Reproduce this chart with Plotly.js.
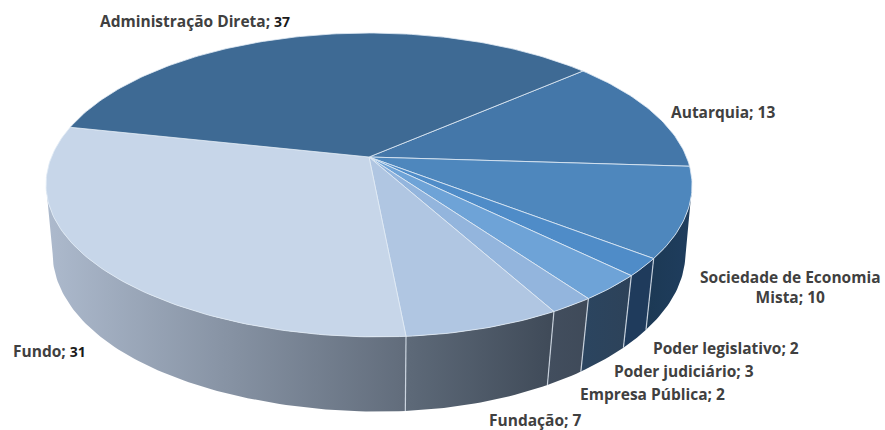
<!DOCTYPE html>
<html><head><meta charset="utf-8">
<script src="https://cdn.plot.ly/plotly-3.0.1.min.js"></script>
<style>html,body{margin:0;padding:0;background:#fff}#c{width:885px;height:430px}</style>
</head><body><div id="c"></div>
<script>
// Data
const categories = ["Autarquia","Sociedade de Economia Mista","Poder legislativo","Poder judiciário","Empresa Pública","Fundação","Fundo","Administração Direta"];
const values = [13,10,2,3,2,7,31,37];
// Styles
const topColors = ["#4477a9","#4e87bd","#4f8cc8","#6ea3d7","#93b5dd","#b0c6e2","#c7d6e9","#3e6a94"];
const wallStart = ["#000","#1c3954","#1f3b5c","#2b4560","#424e5e","#5e6a79","#adbacd","#000"];
const wallEnd   = ["#000","#1f3d5e","#1f3b5c","#2d4259","#3f4a59","#3f4a58","#616c7b","#000"];
const labelX = [723,790,726,684,652,535,49,195];
const labelY = [112,287,348,371,394,420,351,21];
const labelNumDark = [false,false,false,false,false,false,true,true];
// Projection of the tilted disc
const startAngle = 49, visibleFrom = 100.6, visibleTo = 259.4;
const topPlane = {x0:369, y0:157, a:317.5, b:146.8, k:0.184, skew:9, pow:3};
const basePlane = {x0:369, y0:224, a:311, b:153, k:0.184, skew:9, pow:8};
function project(p, deg){
  const t = deg*Math.PI/180, u = Math.sin(t), v = Math.cos(t), w = 1 + p.k*v;
  const warp = v<0 ? p.skew*Math.pow(-v,p.pow) : 0;
  return [p.x0 + p.a*u/w + warp, p.y0 - p.b*v/w];
}
function arc(p, from, to){
  const n = Math.max(2, Math.ceil(Math.abs(to-from)));
  const pts = [];
  for(let i=0;i<=n;i++) pts.push(project(p, from + (to-from)*i/n));
  return pts;
}
const total = values.reduce((a,b)=>a+b,0);
let cum = startAngle; const slices = values.map(v=>{const s={from:cum,to:cum+v/total*360};cum=s.to;return s;});
const traces = [];
// Walls
slices.forEach((s,i)=>{
  const from = Math.max(s.from,visibleFrom), to = Math.min(s.to,visibleTo);
  if(to<=from) return;
  const pts = arc(topPlane,from,to).concat(arc(basePlane,to,from));
  const xs = pts.map(q=>q[0]), ys = pts.map(q=>q[1]);
  xs.push(xs[0]); ys.push(ys[0]);
  traces.push({type:"scatter",mode:"lines",x:xs,y:ys,fill:"toself",name:categories[i]+" (lateral)",
    line:{width:0,color:wallStart[i]},
    fillgradient:{type:"horizontal",start:Math.max(...xs),stop:Math.min(...xs),
      colorscale:[[0,wallEnd[i]],[1,wallStart[i]]]},
    hoverinfo:"skip",showlegend:false});
});
// Wall dividers
slices.forEach((s,i)=>{
  if(s.to<visibleFrom||s.to>visibleTo) return;
  const a = project(topPlane,s.to), b = project(basePlane,s.to);
  traces.push({type:"scatter",mode:"lines",x:[a[0],b[0]],y:[a[1],b[1]],
    line:{width:1.2,color:"rgba(215,224,235,0.85)"},hoverinfo:"skip",showlegend:false});
});
// Top faces
slices.forEach((s,i)=>{
  const pts = [[topPlane.x0,topPlane.y0]].concat(arc(topPlane,s.from,s.to));
  pts.push(pts[0]);
  traces.push({type:"scatter",mode:"lines",x:pts.map(q=>q[0]),y:pts.map(q=>q[1]),fill:"toself",
    fillcolor:topColors[i],name:categories[i],text:categories[i]+"; "+values[i],hoverinfo:"text",
    line:{width:1,color:"rgba(225,235,245,0.8)"},showlegend:false});
});
// Labels
const annotations = categories.map((c,i)=>{
  const num = labelNumDark[i] ? '<span style="color:#1a1a1a;font-size:14px"><b>'+values[i]+'</b></span>' : values[i];
  const txt = (c==="Sociedade de Economia Mista" ? "Sociedade de Economia<br>Mista" : c)+"; "+num;
  return {x:labelX[i],y:labelY[i],xref:"x",yref:"y",text:txt,showarrow:false,align:"center",
    xanchor:"center",yanchor:"middle",font:{family:"Open Sans",size:15.5,weight:700,color:"#404040"}};
});
Plotly.newPlot("c",traces,{
  width:885,height:430,margin:{l:0,r:0,t:0,b:0},
  paper_bgcolor:"#fff",plot_bgcolor:"#fff",showlegend:false,
  xaxis:{range:[0,885],visible:false,fixedrange:true},
  yaxis:{range:[430,0],visible:false,fixedrange:true},
  annotations:annotations
},{displayModeBar:false,staticPlot:true});
</script></body></html>
